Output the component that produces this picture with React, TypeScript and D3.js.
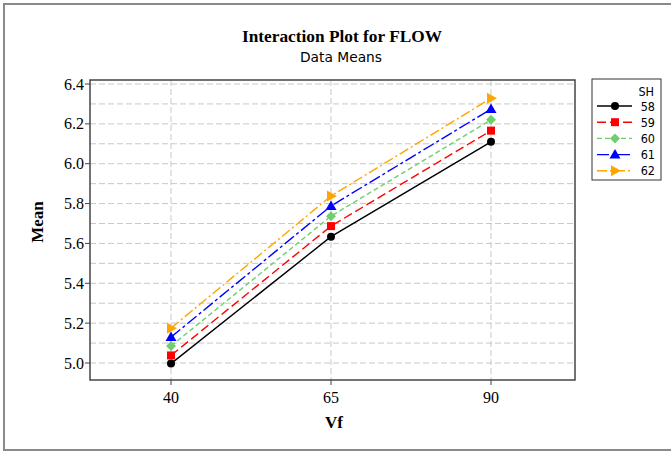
import React from "react";
import * as d3 from "d3";

const levelsVf = [40, 65, 90];
const seriesNames = ["58", "59", "60", "61", "62"];
const values58 = [4.997, 5.634, 6.11];
const values59 = [5.038, 5.687, 6.166];
const values60 = [5.085, 5.737, 6.22];
const values61 = [5.13, 5.788, 6.274];
const values62 = [5.175, 5.838, 6.328];
const yTicks = [5.0, 5.2, 5.4, 5.6, 5.8, 6.0, 6.2, 6.4];
const yGrid = [5.0, 5.1, 5.2, 5.3, 5.4, 5.5, 5.6, 5.7, 5.8, 5.9, 6.0, 6.1, 6.2, 6.3, 6.4];

const allValues = [values58, values59, values60, values61, values62];
const colors = ["#000000", "#ff0000", "#6fcf6f", "#0000ff", "#ffa500"];
const dashes = ["none", "9,4", "5,3", "12,3,3,3", "10,3,2,3"];
const shapes = ["circle", "square", "diamond", "triangleUp", "triangleRight"];

const W = 671;
const H = 452;
const plot = { left: 90, right: 575, top: 80, bottom: 380 };

const x = d3.scaleLinear().domain([40, 90]).range([171, 491]);
const y = d3.scaleLinear().domain([5.0, 6.4]).range([363, 84]);

function Marker({ shape, cx, cy, color }: { shape: string; cx: number; cy: number; color: string }) {
  if (shape === "circle") return <circle cx={cx} cy={cy} r={4} fill={color} />;
  if (shape === "square") return <rect x={cx - 4} y={cy - 4} width={8} height={8} fill={color} />;
  if (shape === "diamond")
    return <path d={`M${cx},${cy - 5}L${cx + 5},${cy}L${cx},${cy + 5}L${cx - 5},${cy}Z`} fill={color} />;
  if (shape === "triangleUp")
    return <path d={`M${cx},${cy - 5.5}L${cx + 5.5},${cy + 4}L${cx - 5.5},${cy + 4}Z`} fill={color} />;
  return <path d={`M${cx + 6},${cy}L${cx - 4},${cy - 5.5}L${cx - 4},${cy + 5.5}Z`} fill={color} />;
}

export default function App() {
  const line = d3
    .line<number>()
    .x((_, i) => x(levelsVf[i]))
    .y((d) => y(d));
  const serif = "'Liberation Serif', 'Times New Roman', serif";
  const sans = "'DejaVu Sans Condensed', 'DejaVu Sans', sans-serif";
  const legendRowY = (i: number) => 106 + i * 16.2;
  return (
    <svg width={W} height={H} style={{ position: "absolute", left: 0, top: 0 }}>
      <rect x={0} y={0} width={W} height={H} fill="#fff" />
      <rect x={4} y={4} width={W + 10} height={446} fill="none" stroke="#8a8a8a" strokeWidth={2} />
      <text x={342} y={42} textAnchor="middle" fontFamily={serif} fontWeight="bold" fontSize={16.5} textLength={200} lengthAdjust="spacingAndGlyphs">
        Interaction Plot for FLOW
      </text>
      <text x={341} y={62} textAnchor="middle" fontFamily={sans} fontSize={14} textLength={82} lengthAdjust="spacingAndGlyphs">
        Data Means
      </text>
      {/* grid */}
      {yGrid.map((v) => (
        <line key={"g" + v} x1={plot.left} x2={plot.right} y1={y(v)} y2={y(v)} stroke="#c8c8c8" strokeWidth={1} strokeDasharray="6,3" />
      ))}
      {levelsVf.map((v) => (
        <line key={"vg" + v} x1={x(v)} x2={x(v)} y1={plot.top} y2={plot.bottom} stroke="#c8c8c8" strokeWidth={1} strokeDasharray="6,3" />
      ))}
      {/* series */}
      {allValues.map((vals, si) => (
        <g key={"s" + si}>
          <path d={line(vals) || ""} fill="none" stroke={colors[si]} strokeWidth={1.4} strokeDasharray={dashes[si]} />
          {vals.map((v, i) => (
            <Marker key={i} shape={shapes[si]} cx={x(levelsVf[i])} cy={y(v)} color={colors[si]} />
          ))}
        </g>
      ))}
      <rect x={plot.left} y={plot.top} width={plot.right - plot.left} height={plot.bottom - plot.top} fill="none" stroke="#444" strokeWidth={1.5} />
      {/* y axis */}
      {yTicks.map((v) => (
        <g key={"yt" + v}>
          <line x1={plot.left - 5} x2={plot.left} y1={y(v)} y2={y(v)} stroke="#444" strokeWidth={1} />
          <text x={plot.left - 6} y={y(v) + 5.5} textAnchor="end" fontFamily={serif} fontSize={16}>
            {v.toFixed(1)}
          </text>
        </g>
      ))}
      {levelsVf.map((v) => (
        <g key={"xt" + v}>
          <line x1={x(v)} x2={x(v)} y1={plot.bottom} y2={plot.bottom + 5} stroke="#444" strokeWidth={1} />
          <text x={x(v)} y={plot.bottom + 23} textAnchor="middle" fontFamily={serif} fontSize={16}>
            {v}
          </text>
        </g>
      ))}
      <text x={334} y={428} textAnchor="middle" fontFamily={serif} fontWeight="bold" fontSize={17}>
        Vf
      </text>
      <text transform="translate(43,222) rotate(-90)" textAnchor="middle" fontFamily={serif} fontWeight="bold" fontSize={17}>
        Mean
      </text>
      {/* legend */}
      <rect x={592} y={79} width={69} height={101} fill="#fff" stroke="#333" strokeWidth={1} />
      <text x={654} y={96} textAnchor="end" fontFamily={sans} fontSize={12.5}>
        SH
      </text>
      {seriesNames.map((n, i) => (
        <g key={"l" + n}>
          <line x1={597} x2={632} y1={legendRowY(i)} y2={legendRowY(i)} stroke={colors[i]} strokeWidth={1.4} strokeDasharray={dashes[i]} />
          <Marker shape={shapes[i]} cx={615} cy={legendRowY(i)} color={colors[i]} />
          <text x={655} y={legendRowY(i) + 4.5} textAnchor="end" fontFamily={sans} fontSize={12.5}>
            {n}
          </text>
        </g>
      ))}
    </svg>
  );
}
